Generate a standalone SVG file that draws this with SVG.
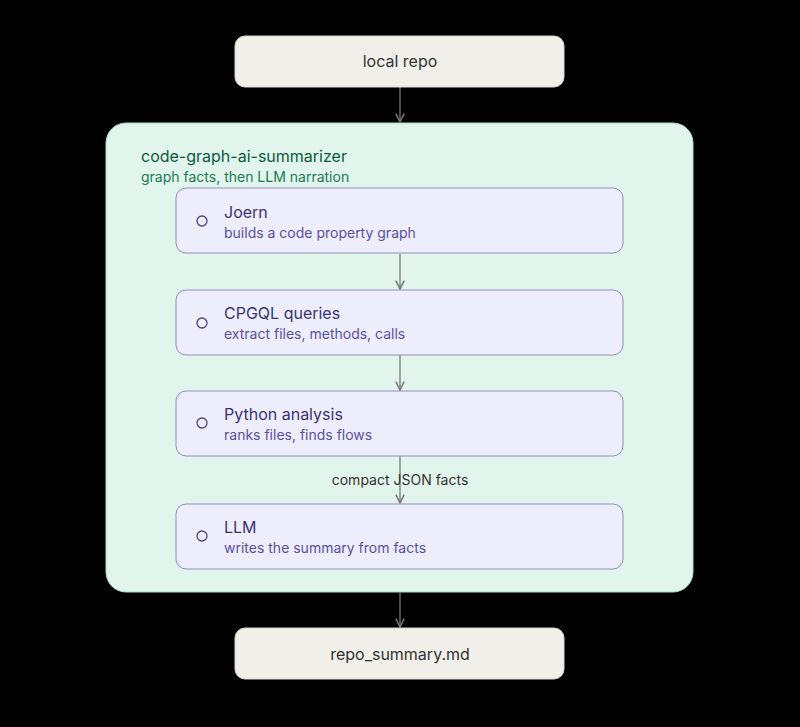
<svg xmlns="http://www.w3.org/2000/svg" width="800" height="727" viewBox="0 0 800 727">
<style>
text{font-family:Inter,"Liberation Sans",sans-serif}
.term rect{fill:#f0efe9;stroke:#d8d6cc;stroke-width:1}
.term text{font-size:16px;fill:#333;text-anchor:middle}
.step rect{fill:#eeedfc;stroke:#8f8cc0;stroke-width:1}
.step circle{fill:none;stroke:#4a4580;stroke-width:1.3}
.t{font-size:16px;fill:#3a3470}
.s{font-size:14px;fill:#5a50a0}
.c line{stroke:#777;stroke-width:1.3}
</style>
<defs><marker id="a" viewBox="0 0 10 10" refX="9" refY="5" markerWidth="8" markerHeight="8" orient="auto"><path d="M1 1L9 5L1 9" fill="none" stroke="#777" stroke-width="1.5"/></marker></defs>
<rect width="800" height="727" fill="#000"/>
<g id="cluster"><rect x="106" y="123" width="587" height="469" rx="20" fill="#e2f5ed" stroke="#a8dcc6"/>
<text x="141" y="162" font-size="16" fill="#0d5a40">code-graph-ai-summarizer</text>
<text x="141" y="182" font-size="14" fill="#1a7a55">graph facts, then LLM narration</text></g>
<g class="c">
<line x1="400" y1="87" x2="400" y2="122" marker-end="url(#a)"/>
<line x1="400" y1="254" x2="400" y2="289" marker-end="url(#a)"/>
<line x1="400" y1="355" x2="400" y2="390" marker-end="url(#a)"/>
<line x1="400" y1="456" x2="400" y2="503" marker-end="url(#a)"/>
<line x1="400" y1="592" x2="400" y2="627" marker-end="url(#a)"/>
<text x="400" y="485" font-size="14" fill="#333" text-anchor="middle">compact JSON facts</text>
</g>
<g id="local" class="term"><rect x="235" y="36" width="329" height="51" rx="10"/><text x="400" y="67">local repo</text></g>
<g id="joern" class="step"><rect x="176" y="188" width="447" height="65" rx="10"/><circle cx="202" cy="221" r="5"/><text class="t" x="224" y="218">Joern</text><text class="s" x="224" y="238">builds a code property graph</text></g>
<g id="cpgql" class="step"><rect x="176" y="290" width="447" height="65" rx="10"/><circle cx="202" cy="323" r="5"/><text class="t" x="224" y="319">CPGQL queries</text><text class="s" x="224" y="339">extract files, methods, calls</text></g>
<g id="python" class="step"><rect x="176" y="391" width="447" height="65" rx="10"/><circle cx="202" cy="423" r="5"/><text class="t" x="224" y="420">Python analysis</text><text class="s" x="224" y="440">ranks files, finds flows</text></g>
<g id="llm" class="step"><rect x="176" y="504" width="447" height="65" rx="10"/><circle cx="202" cy="536" r="5"/><text class="t" x="224" y="533">LLM</text><text class="s" x="224" y="553">writes the summary from facts</text></g>
<g id="out" class="term"><rect x="235" y="628" width="329" height="51" rx="10"/><text x="400" y="660">repo_summary.md</text></g>
</svg>
